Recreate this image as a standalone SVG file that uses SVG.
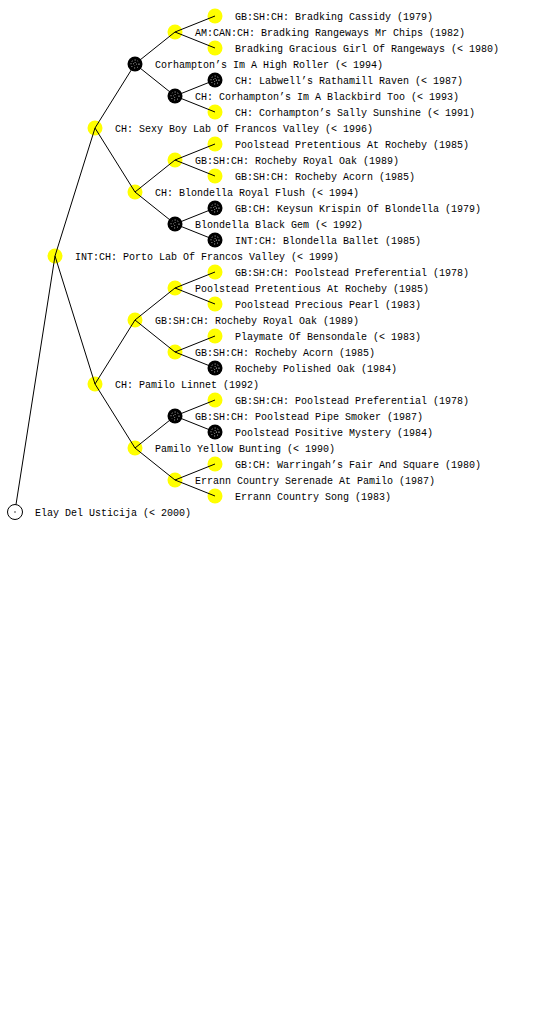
<svg xmlns="http://www.w3.org/2000/svg" width="560" height="1024" viewBox="0 0 560 1024">
<style>
text{font-family:"Liberation Mono","DejaVu Sans Mono",monospace;font-size:10px;fill:#000}
.y{fill:#ffff00}
.b{fill:#000}
.c line{stroke:#000;stroke-width:1}
</style>
<defs>
<g id="yn"><circle r="7.5" class="y"/></g>
<g id="bn"><circle r="7.5" class="b"/><circle r="4" fill="none" stroke="#fff" stroke-width="0.8" stroke-dasharray="1 2"/><circle r="1.5" fill="none" stroke="#fff" stroke-width="0.6" stroke-dasharray="1 1"/></g>
</defs>
<rect width="560" height="1024" fill="#fff"/>
<g id="n0"><circle cx="15" cy="512" r="7.5" fill="#fff" stroke="#000"/><circle cx="15" cy="512" r="0.7" fill="#000"/><text x="35" y="516">Elay Del Usticija (&lt; 2000)</text></g>
<g id="n1"><use href="#yn" x="55" y="256"/><text x="75" y="260">INT:CH: Porto Lab Of Francos Valley (&lt; 1999)</text></g>
<g id="n2"><use href="#yn" x="95" y="128"/><text x="115" y="132">CH: Sexy Boy Lab Of Francos Valley (&lt; 1996)</text></g>
<g id="n3"><use href="#yn" x="95" y="384"/><text x="115" y="388">CH: Pamilo Linnet (1992)</text></g>
<g id="n4"><use href="#bn" x="135" y="64"/><text x="155" y="68">Corhampton’s Im A High Roller (&lt; 1994)</text></g>
<g id="n5"><use href="#yn" x="135" y="192"/><text x="155" y="196">CH: Blondella Royal Flush (&lt; 1994)</text></g>
<g id="n6"><use href="#yn" x="135" y="320"/><text x="155" y="324">GB:SH:CH: Rocheby Royal Oak (1989)</text></g>
<g id="n7"><use href="#yn" x="135" y="448"/><text x="155" y="452">Pamilo Yellow Bunting (&lt; 1990)</text></g>
<g id="n8"><use href="#yn" x="175" y="32"/><text x="195" y="36">AM:CAN:CH: Bradking Rangeways Mr Chips (1982)</text></g>
<g id="n9"><use href="#bn" x="175" y="96"/><text x="195" y="100">CH: Corhampton’s Im A Blackbird Too (&lt; 1993)</text></g>
<g id="n10"><use href="#yn" x="175" y="160"/><text x="195" y="164">GB:SH:CH: Rocheby Royal Oak (1989)</text></g>
<g id="n11"><use href="#bn" x="175" y="224"/><text x="195" y="228">Blondella Black Gem (&lt; 1992)</text></g>
<g id="n12"><use href="#yn" x="175" y="288"/><text x="195" y="292">Poolstead Pretentious At Rocheby (1985)</text></g>
<g id="n13"><use href="#yn" x="175" y="352"/><text x="195" y="356">GB:SH:CH: Rocheby Acorn (1985)</text></g>
<g id="n14"><use href="#bn" x="175" y="416"/><text x="195" y="420">GB:SH:CH: Poolstead Pipe Smoker (1987)</text></g>
<g id="n15"><use href="#yn" x="175" y="480"/><text x="195" y="484">Errann Country Serenade At Pamilo (1987)</text></g>
<g id="n16"><use href="#yn" x="215" y="16"/><text x="235" y="20">GB:SH:CH: Bradking Cassidy (1979)</text></g>
<g id="n17"><use href="#yn" x="215" y="48"/><text x="235" y="52">Bradking Gracious Girl Of Rangeways (&lt; 1980)</text></g>
<g id="n18"><use href="#bn" x="215" y="80"/><text x="235" y="84">CH: Labwell’s Rathamill Raven (&lt; 1987)</text></g>
<g id="n19"><use href="#yn" x="215" y="112"/><text x="235" y="116">CH: Corhampton’s Sally Sunshine (&lt; 1991)</text></g>
<g id="n20"><use href="#yn" x="215" y="144"/><text x="235" y="148">Poolstead Pretentious At Rocheby (1985)</text></g>
<g id="n21"><use href="#yn" x="215" y="176"/><text x="235" y="180">GB:SH:CH: Rocheby Acorn (1985)</text></g>
<g id="n22"><use href="#bn" x="215" y="208"/><text x="235" y="212">GB:CH: Keysun Krispin Of Blondella (1979)</text></g>
<g id="n23"><use href="#bn" x="215" y="240"/><text x="235" y="244">INT:CH: Blondella Ballet (1985)</text></g>
<g id="n24"><use href="#yn" x="215" y="272"/><text x="235" y="276">GB:SH:CH: Poolstead Preferential (1978)</text></g>
<g id="n25"><use href="#yn" x="215" y="304"/><text x="235" y="308">Poolstead Precious Pearl (1983)</text></g>
<g id="n26"><use href="#yn" x="215" y="336"/><text x="235" y="340">Playmate Of Bensondale (&lt; 1983)</text></g>
<g id="n27"><use href="#bn" x="215" y="368"/><text x="235" y="372">Rocheby Polished Oak (1984)</text></g>
<g id="n28"><use href="#yn" x="215" y="400"/><text x="235" y="404">GB:SH:CH: Poolstead Preferential (1978)</text></g>
<g id="n29"><use href="#bn" x="215" y="432"/><text x="235" y="436">Poolstead Positive Mystery (1984)</text></g>
<g id="n30"><use href="#yn" x="215" y="464"/><text x="235" y="468">GB:CH: Warringah’s Fair And Square (1980)</text></g>
<g id="n31"><use href="#yn" x="215" y="496"/><text x="235" y="500">Errann Country Song (1983)</text></g>
<g id="connectors" class="c">
<line x1="16" y1="504.5" x2="55" y2="256"/>
<line x1="55" y1="256" x2="95" y2="128"/>
<line x1="55" y1="256" x2="95" y2="384"/>
<line x1="95" y1="128" x2="135" y2="64"/>
<line x1="95" y1="128" x2="135" y2="192"/>
<line x1="95" y1="384" x2="135" y2="320"/>
<line x1="95" y1="384" x2="135" y2="448"/>
<line x1="135" y1="64" x2="175" y2="32"/>
<line x1="135" y1="64" x2="175" y2="96"/>
<line x1="135" y1="192" x2="175" y2="160"/>
<line x1="135" y1="192" x2="175" y2="224"/>
<line x1="135" y1="320" x2="175" y2="288"/>
<line x1="135" y1="320" x2="175" y2="352"/>
<line x1="135" y1="448" x2="175" y2="416"/>
<line x1="135" y1="448" x2="175" y2="480"/>
<line x1="175" y1="32" x2="215" y2="16"/>
<line x1="175" y1="32" x2="215" y2="48"/>
<line x1="175" y1="96" x2="215" y2="80"/>
<line x1="175" y1="96" x2="215" y2="112"/>
<line x1="175" y1="160" x2="215" y2="144"/>
<line x1="175" y1="160" x2="215" y2="176"/>
<line x1="175" y1="224" x2="215" y2="208"/>
<line x1="175" y1="224" x2="215" y2="240"/>
<line x1="175" y1="288" x2="215" y2="272"/>
<line x1="175" y1="288" x2="215" y2="304"/>
<line x1="175" y1="352" x2="215" y2="336"/>
<line x1="175" y1="352" x2="215" y2="368"/>
<line x1="175" y1="416" x2="215" y2="400"/>
<line x1="175" y1="416" x2="215" y2="432"/>
<line x1="175" y1="480" x2="215" y2="464"/>
<line x1="175" y1="480" x2="215" y2="496"/>
</g>
</svg>
